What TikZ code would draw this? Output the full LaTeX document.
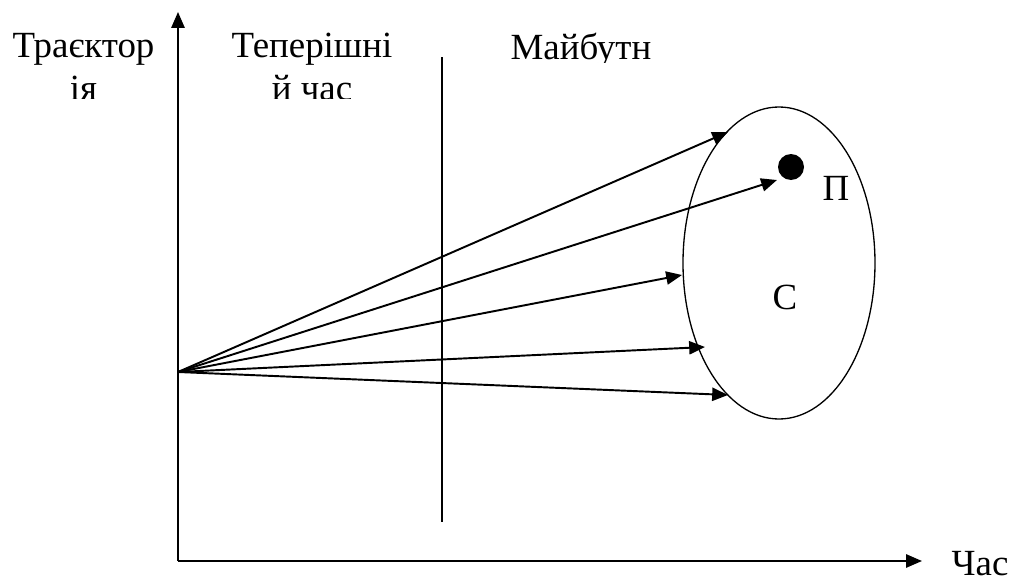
\documentclass[tikz,border=0pt]{standalone}
\usepackage{fontspec}
\setmainfont{Liberation Serif}
\usetikzlibrary{arrows.meta,shapes.geometric}

\begin{document}
\begin{tikzpicture}[>={Triangle[length=9pt,width=7.5pt]},
        axis/.style={->,line width=1.1pt},
        ray/.style={->,line width=1.1pt},
        thinline/.style={line width=0.75pt},
        txt/.style={font=\fontsize{21}{25}\selectfont,inner sep=0pt,align=center}]
    \useasboundingbox (0,0) rectangle (20.22,11.62);
    \coordinate (O) at (3.56,0.40);
    \coordinate (Ytop) at (3.56,11.38);
    \coordinate (Xend) at (18.44,0.40);
    \coordinate (R0) at (3.56,4.18);
    \coordinate (L1) at (8.84,10.48);
    \coordinate (L2) at (8.84,1.18);
    \draw[axis] (O) -- (Ytop);
    \draw[axis] (O) -- (Xend);
    \draw[thinline] (L1) -- (L2);
    \node[draw,thinline,ellipse,minimum width=3.84cm,minimum height=6.24cm] (S) at (15.58,6.36) {};
    \node[circle,fill,inner sep=0pt,minimum size=0.52cm] (D) at (15.82,8.28) {};
    \node[txt,anchor=base] (P) at (16.72,7.62) {П};
    \node[txt,anchor=base] (C) at (15.70,5.44) {С};
    \node[txt,anchor=base] (T) at (19.6,0.12) {Час};
    \coordinate (E1) at (14.56,8.98);
    \coordinate (E2) at (15.54,8.02);
    \coordinate (E3) at (13.64,6.12);
    \coordinate (E4) at (14.10,4.68);
    \coordinate (E5) at (14.56,3.72);
    \foreach \e in {E1,E2,E3,E4,E5}
        \draw[ray] (R0) -- (\e);
    \begin{scope}
        \clip (0,9.66) rectangle (8.4,11.62);
        \node[txt,anchor=base] (Tr) at (1.67,9.60) {Траєктор\\ія};
        \node[txt,anchor=base] (Tp) at (6.24,9.60) {Теперішні\\й час};
    \end{scope}
    \begin{scope}
        \clip (9.2,10.38) rectangle (14.4,11.62);
        \node[txt,anchor=base] (M) at (11.62,10.42) {Майбутн};
    \end{scope}
\end{tikzpicture}
\end{document}
